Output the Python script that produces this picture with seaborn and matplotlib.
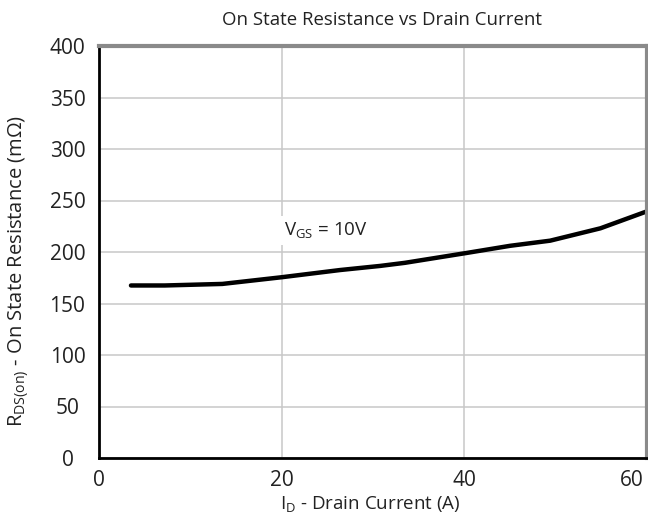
import matplotlib
matplotlib.use("Agg")
import matplotlib.pyplot as plt
import matplotlib.transforms as mtransforms
import seaborn as sns
import pandas as pd

# Data
drain_current = [3.5, 7.2, 13.5, 20.0, 26.4, 30.8, 33.5, 40.2, 45.0, 49.4, 54.9, 60.0]
resistance = [167.5, 167.5, 169.0, 175.5, 182.5, 186.5, 189.5, 199.0, 206.0, 211.0, 223.0, 239.5]
x_ticks = [0, 20, 40, 60]
y_ticks = [0, 50, 100, 150, 200, 250, 300, 350, 400]

df = pd.DataFrame({"Id": drain_current, "R": resistance})

sns.set_style("white")
plt.rcParams["font.family"] = ["Open Sans", "DejaVu Sans"]

fig = plt.figure(figsize=(6.48, 5.19), dpi=100)
ax = fig.add_axes([99 / 648, 1 - 458 / 519, (647 - 99) / 648, (458 - 46) / 519])

sns.lineplot(data=df, x="Id", y="R", ax=ax, color="black", linewidth=3.2)

ax.set_xlim(0, 60)
ax.set_ylim(0, 400)
ax.set_xticks(x_ticks)
ax.set_yticks(y_ticks)
ax.grid(True, color="#c8c8c8", linewidth=1.1)
ax.set_axisbelow(True)

for side in ["left", "bottom"]:
    ax.spines[side].set_color("black")
    ax.spines[side].set_linewidth(2.0)
for side in ["top", "right"]:
    ax.spines[side].set_color("#8a8a8a")
    ax.spines[side].set_linewidth(3.0)
    ax.spines[side].set_visible(True)

ax.tick_params(axis="y", which="both", direction="out", length=3, width=1,
               color="#888888", labelsize=15, labelcolor="#222222", pad=19.7)
ax.tick_params(axis="x", which="both", direction="out", length=4, width=1,
               color="#333333", labelsize=15, labelcolor="#222222", pad=5)
ax.set_xlabel("")
ax.set_ylabel("")

# y tick labels are centred in the reference; last x label kept inside figure
for lbl in ax.get_yticklabels():
    lbl.set_horizontalalignment("center")
xl = ax.get_xticklabels()
xl[-1].set_horizontalalignment("right")
xl[-1].set_transform(xl[-1].get_transform() +
                     mtransforms.ScaledTranslation(-3 / 100, 0, fig.dpi_scale_trans))

ax.text(20.25, 221, r"V$_{\mathregular{GS}}$ = 10V", fontsize=13.5, color="#222222",
        va="center", ha="left",
        bbox=dict(facecolor="white", edgecolor="none", pad=3))

fig.text(382 / 648, 1 - 20 / 519, "On State Resistance vs Drain Current",
         ha="center", va="center", fontsize=13.4, color="#222222")
fig.text(370 / 648, 1 - 505 / 519, r"I$_{\mathregular{D}}$ - Drain Current (A)",
         ha="center", va="center", fontsize=13.5, color="#222222")
fig.text(19 / 648, 1 - 271 / 519,
         r"R$_{\mathregular{DS(on)}}$ - On State Resistance (mΩ)",
         ha="center", va="center", rotation=90, fontsize=14.5, color="#222222")

fig.savefig("out.png", dpi=100)
